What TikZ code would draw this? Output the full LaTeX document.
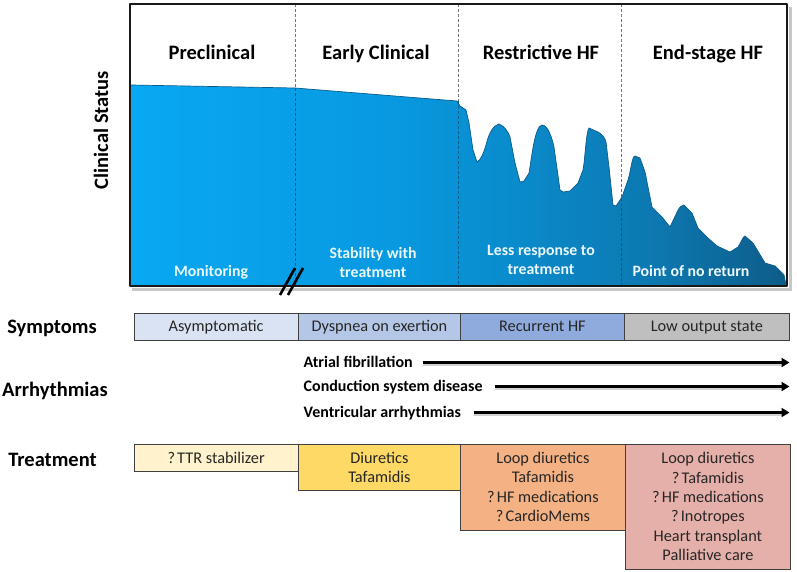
\documentclass[tikz,border=0pt]{standalone}
\usepackage{fontspec}
\setmainfont{Carlito}
\usetikzlibrary{arrows.meta}
\definecolor{symA}{HTML}{DAE3F3}
\definecolor{symB}{HTML}{B4C7E7}
\definecolor{symC}{HTML}{8FAADC}
\definecolor{symD}{HTML}{BFBFBF}
\definecolor{trA}{HTML}{FFF2CC}
\definecolor{trB}{HTML}{FFD966}
\definecolor{trC}{HTML}{F4B183}
\definecolor{trD}{HTML}{E6B0AA}
\definecolor{edgeline}{HTML}{404040}
\definecolor{curveline}{HTML}{0B5C8C}
\pgfdeclarehorizontalshading{clinical}{100bp}{
  rgb(0bp)=(0.03,0.66,0.95);
  rgb(25bp)=(0.03,0.66,0.95);
  rgb(45bp)=(0.03,0.60,0.88);
  rgb(55bp)=(0.04,0.54,0.79);
  rgb(65bp)=(0.05,0.47,0.69);
  rgb(75bp)=(0.05,0.36,0.54);
  rgb(100bp)=(0.05,0.36,0.54)}
\newcommand{\qm}{?\kern-1.5pt\ }
\tikzset{
  stagelabel/.style={font=\fontsize{20.5}{22}\selectfont\bfseries,text=black,inner sep=0pt,anchor=base},
  sidelabel/.style={font=\fontsize{20.5}{22}\selectfont\bfseries,text=black,inner sep=0pt,anchor=base},
  curvelabel/.style={font=\fontsize{15.8}{19.5}\selectfont\bfseries,text=white!92!cyan,align=center,inner sep=0pt},
  symbox/.style={draw=edgeline,line width=0.8pt,anchor=north west,minimum height=27.5pt,inner sep=0pt,text height=12pt,text depth=2pt,font=\fontsize{16.3}{18}\selectfont,text=black!85},
  trbox/.style={draw=edgeline,line width=0.8pt,anchor=north west,inner sep=0pt,align=center,font=\fontsize{16.3}{19.4}\selectfont,text=black!85},
  arrlabel/.style={font=\fontsize{16}{18}\selectfont\bfseries,anchor=base west,inner sep=0pt,text=black},
  arrline/.style={line width=2.4pt,-{Triangle[length=8pt,width=9pt]},black},
  arrshadow/.style={line width=2pt,black!18},
  divgray/.style={draw=black!55,line width=0.7pt,dash pattern=on 3pt off 2pt},
  divblue/.style={draw=curveline,line width=0.7pt,dash pattern=on 3pt off 2pt},
  breakmark/.style={line width=2.6pt,black}
}
\begin{document}
\begin{tikzpicture}[x=1pt,y=-1pt]
\useasboundingbox (0,0) rectangle (797,571);
\fill[white] (0,0) rectangle (797,571);
% frame shadow
\draw[black!22,line width=3pt] (132,289.5) -- (790.5,289.5) -- (790.5,7);
% curve
\def\curvepath{(131,85) -- (295,88) -- (457,101) -- (460,106) -- (466,110) -- (469,123) -- (473,150) -- (477,162)
  .. controls (481,160) and (484,152) .. (486,145) .. controls (489,132) and (494,125) .. (499,124)
  .. controls (504,126) and (508,131) .. (510,137) -- (515,163) -- (520,182) -- (524,181) -- (529,173)
  .. controls (532,155) and (535,126) .. (542,125) .. controls (548,125) and (552,138) .. (554,147)
  -- (560,190) -- (563,192) -- (570,191) -- (578,183) -- (583,170)
  .. controls (585,160) and (586,132) .. (589,128) -- (598,132) .. controls (602,134) and (605,138) .. (606,142)
  -- (609,167) -- (613,205) -- (616,206) -- (622,197) -- (628,180)
  .. controls (631,170) and (632,156) .. (635,156) -- (640,158) -- (645,172) -- (652,207) -- (662,217) -- (670,227)
  -- (678,210) .. controls (680,207) and (682,205) .. (684,205) -- (692,213) -- (698,228) -- (708,238) -- (717,246)
  -- (730,252) -- (738,247) .. controls (741,243) and (743,236) .. (745,236) -- (753,243) -- (765,263) -- (775,266) -- (784,275) -- (786,285)}
\path[shading=clinical] \curvepath -- (131,285) -- cycle;
\draw[curveline,line width=0.7pt] \curvepath;
% dividers
\coordinate (divA) at (295,4);
\coordinate (divB) at (458,4);
\coordinate (divC) at (621,4);
\coordinate (baseA) at (295,286);
\coordinate (baseB) at (458,286);
\coordinate (baseC) at (621,286);
\draw[divgray] (divA) -- (295,88);
\draw[divblue] (295,88) -- (baseA);
\draw[divgray] (divB) -- (458,101);
\draw[divblue] (458,101) -- (baseB);
\draw[divgray] (divC) -- (621,198);
\draw[divblue] (621,198) -- (baseC);
% frame
\draw[black!90,line width=2.6pt,line join=round] (130,4) rectangle (787,286);
% break mark
\coordinate (brA) at (280,295);
\coordinate (brB) at (295,268);
\coordinate (brC) at (288,295);
\coordinate (brD) at (303,268);
\draw[breakmark] (brA) -- (brB);
\draw[breakmark] (brC) -- (brD);
% stage labels
\node[stagelabel] (stA) at (212,59) {Preclinical};
\node[stagelabel] (stB) at (376,59) {Early Clinical};
\node[stagelabel] (stC) at (541,59) {Restrictive HF};
\node[stagelabel] (stD) at (708,59) {End-stage HF};
\node[curvelabel] (cuA) at (211,272) {Monitoring};
\node[curvelabel] (cuB) at (373,262.5) {Stability with\\treatment};
\node[curvelabel] (cuC) at (541,260) {Less response to\\treatment};
\node[curvelabel] (cuD) at (691,271) {Point of no return};
\node[font=\fontsize{20.5}{22}\selectfont\bfseries,inner sep=0pt,rotate=90] (clin) at (101,130) {Clinical Status};
% side labels
\node[sidelabel] (sideA) at (52,333) {Symptoms};
\node[sidelabel] (sideB) at (55,396) {Arrhythmias};
\node[sidelabel] (sideC) at (52.5,466) {Treatment};
% symptoms
\node[symbox,fill=symA,minimum width=164.5pt] (syA) at (133.5,312.5) {Asymptomatic};
\node[symbox,fill=symB,minimum width=162pt] (syB) at (298,312.5) {Dyspnea on exertion};
\node[symbox,fill=symC,minimum width=164pt] (syC) at (460,312.5) {Recurrent HF};
\node[symbox,fill=symD,minimum width=165pt] (syD) at (624,312.5) {Low output state};
% arrhythmias
\node[arrlabel] (afib) at (303.5,367.5) {Atrial fibrillation};
\node[arrlabel] (cond) at (303.5,391.5) {Conduction system disease};
\node[arrlabel] (vent) at (303.5,417.5) {Ventricular arrhythmias};
\coordinate (afibEnd) at (789.5,362.5);
\coordinate (condEnd) at (789.5,386.5);
\coordinate (ventEnd) at (789.5,412.5);
\draw[arrshadow] (423,365) -- (785,365);
\draw[arrshadow] (495,389) -- (785,389);
\draw[arrshadow] (473.5,415) -- (785,415);
\draw[arrline] (423,362.5) -- (afibEnd);
\draw[arrline] (495,386.5) -- (condEnd);
\draw[arrline] (473.5,412.5) -- (ventEnd);
% treatment
\node[trbox,fill=trA,minimum width=164.5pt,minimum height=27.5pt] (trA) at (133.5,443.5) {\qm TTR stabilizer};
\node[trbox,fill=trB,minimum width=162pt,minimum height=46.8pt] (trB) at (298,443.5) {Diuretics\\Tafamidis};
\node[trbox,fill=trC,minimum width=165pt,minimum height=86pt] (trC) at (460,443.5) {Loop diuretics\\Tafamidis\\\qm HF medications\\\qm CardioMems};
\node[trbox,fill=trD,minimum width=165pt,minimum height=125.3pt] (trD) at (625,443.5) {Loop diuretics\\\qm Tafamidis\\\qm HF medications\\\qm Inotropes\\Heart transplant\\Palliative care};
\end{tikzpicture}
\end{document}
